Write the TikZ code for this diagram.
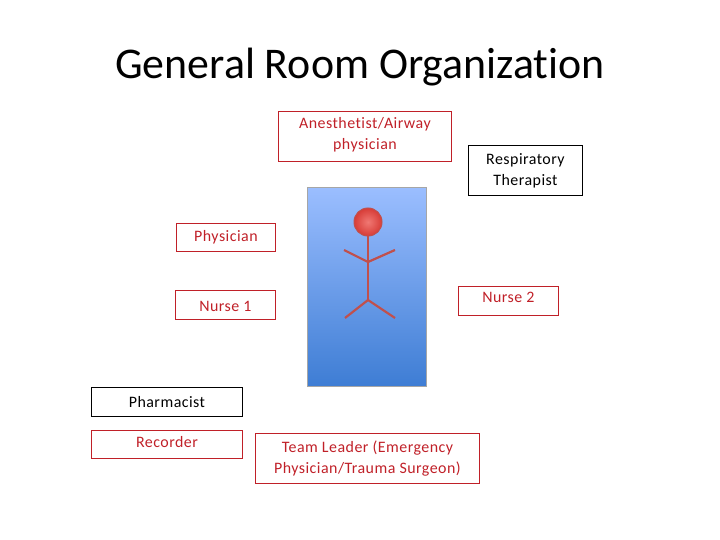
\documentclass[tikz,border=0pt]{standalone}
\usepackage{fontspec}
\setmainfont{Carlito}[Ligatures=NoCommon,LetterSpace=3]
\definecolor{rr}{RGB}{192,32,40}
\begin{document}
\begin{tikzpicture}[x=1bp,y=-1bp,
  rbox/.style={draw=rr,line width=0.9pt,minimum height=#1,anchor=north west,inner sep=0pt},
  kbox/.style={draw=black,line width=0.9pt,anchor=north west,inner sep=0pt},
  lbl/.style={font=\fontsize{16}{21}\selectfont,align=center},
  rl/.style={lbl,text=rr},
  limb/.style={draw={rgb,255:red,192;green,80;blue,77},line width=2.2pt}]
\useasboundingbox (0,0) rectangle (720,540);
\node[font=\fontsize{44}{52}\selectfont\addfontfeatures{LetterSpace=0}] (title) at (360,67) {General Room Organization};
\node[rbox=50bp,minimum width=173bp] (an) at (278,111) {};
\node[rl,anchor=north] (ant) at ([yshift=-3bp]an.north) {Anesthetist/Airway\\physician};
\node[kbox,minimum width=114bp,minimum height=50bp] (rt) at (468,145) {};
\node[lbl] (rtt) at (rt.center) {Respiratory\\Therapist};
\node[rbox=28bp,minimum width=99bp] (ph) at (176,223) {};
\node[rl] (pht) at (ph.center) {Physician};
\node[rbox=29bp,minimum width=100bp] (n1) at (175,290) {};
\node[rl] (n1t) at ([yshift=-1bp]n1.center) {Nurse 1};
\node[rbox=29bp,minimum width=100bp] (n2) at (458,286) {};
\node[rl,anchor=north] (n2t) at ([yshift=-3bp]n2.north) {Nurse 2};
\node[kbox,minimum width=151bp,minimum height=29bp] (pa) at (91,387) {};
\node[lbl] (pat) at (pa.center) {Pharmacist};
\node[rbox=28bp,minimum width=151bp] (re) at (91,430) {};
\node[rl,anchor=north] (ret) at ([yshift=-3bp]re.north) {Recorder};
\node[rbox=50bp,minimum width=224bp] (tl) at (255,433) {};
\node[rl] (tlt) at (tl.center) {Team Leader (Emergency\\Physician/Trauma Surgeon)};
\node[draw=gray!70,anchor=north west,minimum width=119bp,minimum height=199bp,inner sep=0pt,
  top color={rgb,255:red,155;green,190;blue,255},bottom color={rgb,255:red,62;green,125;blue,212}] (bed) at (307,187) {};
\node[circle,draw={rgb,255:red,192;green,80;blue,77},line width=1pt,minimum size=28bp,inner sep=0pt,
  inner color={rgb,255:red,240;green,120;blue,115},outer color={rgb,255:red,215;green,60;blue,55}] (head) at (368,222) {};
\coordinate (hip) at (368,300);
\coordinate (sh) at (368,262);
\draw[limb] (head.south) -- (hip);
\draw[limb] (344,250) -- (sh) -- (395,250);
\draw[limb] (345,318) -- (hip) -- (395,318);
\end{tikzpicture}
\end{document}
